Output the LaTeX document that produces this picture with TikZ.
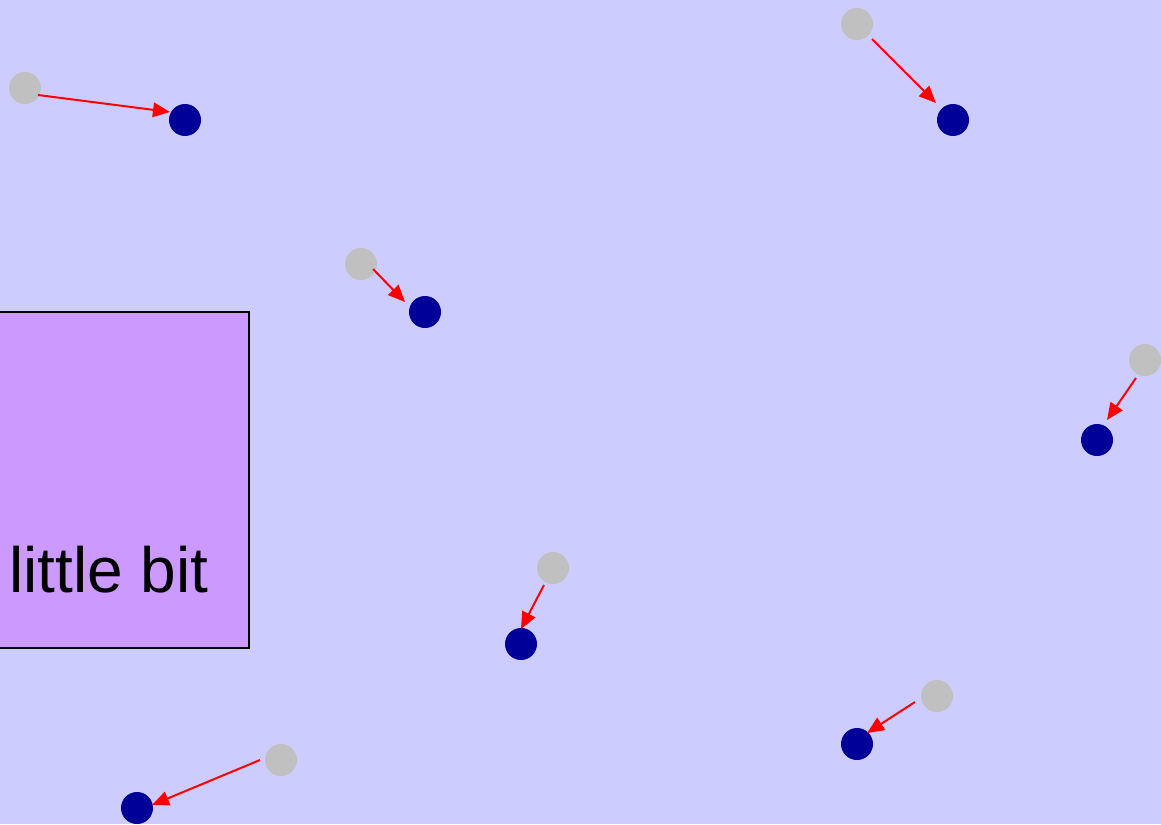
\documentclass[tikz,border=0pt]{standalone}
\usepackage{fontspec}
\setmainfont{Liberation Sans}
\usetikzlibrary{arrows.meta,calc}
\definecolor{bgc}{HTML}{CCCCFF}
\definecolor{boxc}{HTML}{CC99FF}
\definecolor{grayc}{HTML}{C0C0C0}
\definecolor{bluec}{HTML}{000099}
\tikzset{
  oldpt/.style={circle,fill=grayc,minimum size=32pt,inner sep=0pt,outer sep=0pt},
  newpt/.style={circle,fill=bluec,minimum size=32pt,inner sep=0pt,outer sep=0pt},
  move/.style={draw=red,line width=2pt,-{Triangle[length=17pt,width=14.5pt]}}
}
\begin{document}
\begin{tikzpicture}[x=1pt,y=-1pt]
\useasboundingbox (0,0) rectangle (1161,824);
\clip (0,0) rectangle (1161,824);
\fill[bgc] (0,0) rectangle (1161,824);
\node[draw=black,line width=1.5pt,fill=boxc,minimum width=280pt,minimum height=336pt,inner sep=0pt] (box) at (109,480) {};
\node[anchor=base west,inner sep=0pt,font=\fontsize{64}{70}\selectfont] (lbl) at (9,592) {little bit};
\node[oldpt] (g1) at (25,88) {};
\node[newpt] (b1) at (185,120) {};
\node[oldpt] (g2) at (857,24) {};
\node[newpt] (b2) at (953,120) {};
\node[oldpt] (g3) at (361,264) {};
\node[newpt] (b3) at (425,312) {};
\node[oldpt] (g4) at (1145,360) {};
\node[newpt] (b4) at (1097,440) {};
\node[oldpt] (g5) at (553,568) {};
\node[newpt] (b5) at (521,644) {};
\node[oldpt] (g6) at (937,696) {};
\node[newpt] (b6) at (857,744) {};
\node[oldpt] (g7) at (281,760) {};
\node[newpt] (b7) at (137,808) {};
\coordinate (s1) at ($(g1)+(13,7)$);   \coordinate (t1) at ($(b1)+(-15,-8)$);
\coordinate (s2) at ($(g2)+(15,15)$);  \coordinate (t2) at ($(b2)+(-17,-17)$);
\coordinate (s3) at ($(g3)+(12,5)$);   \coordinate (t3) at ($(b3)+(-20,-10)$);
\coordinate (s4) at ($(g4)+(-9,18)$);  \coordinate (t4) at ($(b4)+(10,-20)$);
\coordinate (s5) at ($(g5)+(-9,17)$);  \coordinate (t5) at ($(b5)+(0,-15)$);
\coordinate (s6) at ($(g6)+(-22,6)$);  \coordinate (t6) at ($(b6)+(10,-11)$);
\coordinate (s7) at ($(g7)+(-21,0)$);  \coordinate (t7) at ($(b7)+(15,-3)$);
\foreach \i in {1,...,7}{
  \draw[move] (s\i) -- (t\i);
}
\end{tikzpicture}
\end{document}
